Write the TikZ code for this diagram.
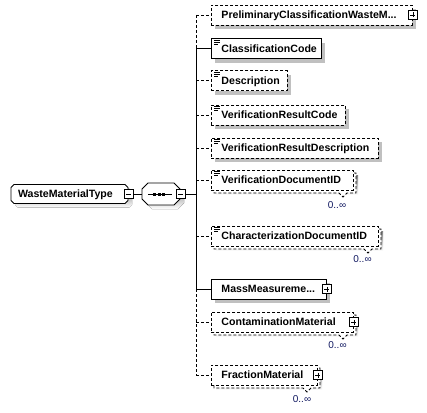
\documentclass[tikz,border=0pt]{standalone}
\usepackage{fontspec}
\setmainfont{Liberation Sans}
\usetikzlibrary{shadows}
\definecolor{shade}{RGB}{192,192,192}
\definecolor{multc}{RGB}{16,24,96}
\newcommand\docicon[1]{%
  \draw[iconline] ([shift={(3,2)}]#1.north west) -- ++(6,0);
  \draw[iconline] ([shift={(3,4)}]#1.north west) -- ++(6,0);
  \draw[iconline] ([shift={(3,6)}]#1.north west) -- ++(4,0);}
\begin{document}
\begin{tikzpicture}[x=1pt,y=-1pt,line width=0.9pt,
  opt/.style={dash pattern=on 3pt off 2pt},
  elem/.style={draw=black, fill=white, anchor=west, minimum height=20pt, inner ysep=0pt, inner xsep=10pt, align=left, text height=7.6pt, text depth=0pt, font=\fontsize{10.6}{12}\selectfont\bfseries},
  shad/.style={drop shadow={shadow xshift=4pt, shadow yshift=-4pt, fill=shade, draw=none, opacity=1}},
  plusbox/.style={draw=black, fill=white, solid, minimum size=9pt, inner sep=0pt, line width=0.8pt,
    path picture={\draw[line width=0.8pt] ([xshift=2pt]path picture bounding box.west) -- ([xshift=-2pt]path picture bounding box.east);
                  \draw[line width=0.8pt] ([yshift=-2pt]path picture bounding box.north) -- ([yshift=2pt]path picture bounding box.south);}},
  minusbox/.style={draw=black, fill=white, solid, minimum size=9pt, inner sep=0pt, line width=0.8pt,
    path picture={\draw[line width=0.8pt] ([xshift=2pt]path picture bounding box.west) -- ([xshift=-2pt]path picture bounding box.east);}},
  multl/.style={font=\fontsize{10}{11}\selectfont, text=multc, inner sep=0pt},
  iconline/.style={line width=0.8pt, solid},
  conn/.style={draw=black, line width=0.9pt}
]
\useasboundingbox (0,0) rectangle (427,412);

% ---- root element
\fill[shade] (18,188.5) -- (129,188.5) -- (132,191.5) -- (132,204.5) -- (129,207.5) -- (18,207.5) -- (15,204.5) -- (15,191.5) -- cycle;
\draw[fill=white] (14,184.5) -- (125,184.5) -- (128,187.5) -- (128,200.5) -- (125,203.5) -- (14,203.5) -- (11,200.5) -- (11,187.5) -- cycle;
\node[minimum width=117pt, minimum height=19pt, text width=103pt, inner xsep=7pt, inner ysep=0pt, align=left, text height=7.6pt, text depth=0pt, font=\fontsize{10.6}{12}\selectfont\bfseries] (root) at (69.5,194) {\mbox{WasteMaterialType}};
\node[minusbox] (rootm) at (root.east) {};

% ---- sequence compositor
\fill[shade] (152,187) -- (178,187) -- (184,193) -- (184,203) -- (178,209) -- (152,209) -- (146,203) -- (146,193) -- cycle;
\draw[fill=white] (148,183) -- (174,183) -- (180,189) -- (180,199) -- (174,205) -- (148,205) -- (142,199) -- (142,189) -- cycle;
\node[minimum width=38pt, minimum height=22pt, inner sep=0pt] (comp) at (161,194) {};
\draw (148,194) -- (172,194);
\fill (153,192.5) rectangle (156,195.5);
\fill (157.5,192.5) rectangle (160.5,195.5);
\fill (162,192.5) rectangle (165,195.5);
\node[minusbox] (compm) at (comp.east) {};

\coordinate (sp) at (196,194);

% ---- back boxes of repeating elements
\fill[shade] (216,175) rectangle (358,195);
\draw[opt, fill=white] (214,173) -- (356,173) -- (356,193) -- (347,193) -- (343,197) -- (339,193) -- (214,193) -- cycle;
\fill[shade] (216,231) rectangle (383,251);
\draw[opt, fill=white] (214,229) -- (381,229) -- (381,249) -- (372,249) -- (368,253) -- (364,249) -- (214,249) -- cycle;
\fill[shade] (216,317) rectangle (358,337);
\draw[opt, fill=white] (214,315) -- (356,315) -- (356,335) -- (347,335) -- (343,339) -- (339,335) -- (214,335) -- cycle;
\fill[shade] (216,370) rectangle (322,390);
\draw[opt, fill=white] (214,368) -- (320,368) -- (320,388) -- (311,388) -- (307,392) -- (303,388) -- (214,388) -- cycle;

% ---- child elements
\node[elem,opt,shad,text width=181pt] (e1) at (211,15) {\mbox{PreliminaryClassificationWasteM...}};
\node[plusbox] (p1) at (e1.east) {};
\node[elem,shad,text width=90pt] (e2) at (211,48.5) {\mbox{ClassificationCode}};
\node[elem,opt,shad,text width=56pt] (e3) at (211,80.5) {\mbox{Description}};
\node[elem,opt,shad,text width=114pt] (e4) at (211,115) {\mbox{VerificationResultCode}};
\node[elem,opt,shad,text width=147pt] (e5) at (211,148) {\mbox{VerificationResultDescription}};
\node[elem,opt,text width=122pt] (e6) at (211,180) {\mbox{VerificationDocumentID}};
\node[multl] (m6) at (337,205) {0..∞};
\node[elem,opt,text width=147pt] (e7) at (211,236) {\mbox{CharacterizationDocumentID}};
\node[multl] (m7) at (362.5,259) {0..∞};
\node[elem,shad,text width=95pt] (e8) at (211,289) {\mbox{MassMeasureme...}};
\node[plusbox] (p8) at (e8.east) {};
\node[elem,opt,text width=122pt] (e9) at (211,322) {\mbox{ContaminationMaterial}};
\node[plusbox] (p9) at (e9.east) {};
\node[multl] (m9) at (337.5,345.5) {0..∞};
\node[elem,opt,text width=86pt] (e10) at (211,375) {\mbox{FractionMaterial}};
\node[plusbox] (p10) at (e10.east) {};
\node[multl] (m10) at (302,399.5) {0..∞};

\docicon{e2}
\docicon{e3}
\docicon{e4}
\docicon{e5}
\docicon{e6}
\docicon{e7}

% ---- connectors
\draw[conn] (rootm.east) -- (comp.west);
\draw[conn] (compm.east) -- (sp);
\draw[conn,opt] (e1.west -| sp) -- (e2.west -| sp);
\draw[conn] (e2.west -| sp) -- (e8.west -| sp);
\draw[conn,opt] (e8.west -| sp) -- (e10.west -| sp);
\foreach \n in {e1,e3,e4,e5,e6,e7,e9,e10}{
  \draw[conn,opt] (\n.west -| sp) -- (\n.west);
}
\draw[conn] (e2.west -| sp) -- (e2.west);
\draw[conn] (e8.west -| sp) -- (e8.west);
\end{tikzpicture}
\end{document}
